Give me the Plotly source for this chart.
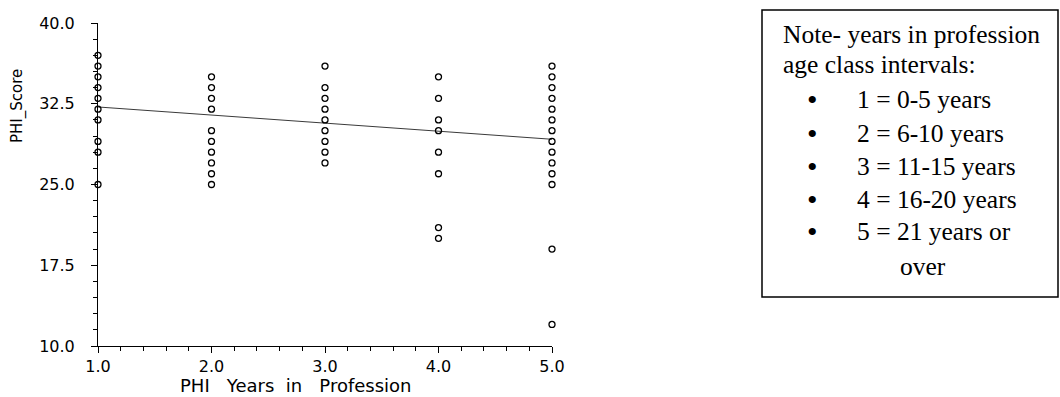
import plotly.graph_objects as go

# ---- data ----
years_groups = [1, 2, 3, 4, 5]
score_1 = [37, 36, 35, 34, 33, 32, 31, 29, 28, 25]
score_2 = [35, 34, 33, 32, 30, 29, 28, 27, 26, 25]
score_3 = [36, 34, 33, 32, 31, 30, 29, 28, 27]
score_4 = [35, 33, 31, 30, 28, 26, 21, 20]
score_5 = [36, 35, 34, 33, 32, 31, 30, 29, 28, 27, 26, 25, 19, 12]
fit_x = [1.0, 5.0]
fit_y = [32.2, 29.2]
x_ticks = [1.0, 2.0, 3.0, 4.0, 5.0]
y_ticks = [10.0, 17.5, 25.0, 32.5, 40.0]
note_lines = ["Note- years in profession", "age class intervals:"]
bullet_lines = ["1 = 0-5 years", "2 = 6-10 years", "3 = 11-15 years",
                "4 = 16-20 years", "5 = 21 years or"]
cont_line = "over"

groups = [score_1, score_2, score_3, score_4, score_5]
xs, ys = [], []
for g, sc in zip(years_groups, groups):
    xs += [g] * len(sc)
    ys += sc

W, H = 1060, 397
L, R, T, B = 98, 508, 23, 51
PW, PH = W - L - R, H - T - B


def px(x):
    return (x - L) / PW


def py(y):
    return (H - B - y) / PH


SANS = "DejaVu Sans, Verdana, sans-serif"
SERIF = "Liberation Serif, Times New Roman, serif"

fig = go.Figure()
fig.add_trace(go.Scatter(
    x=fit_x, y=fit_y, mode="lines",
    line=dict(color="#3a3a3a", width=1), cliponaxis=False, showlegend=False,
))
fig.add_trace(go.Scatter(
    x=xs, y=ys, mode="markers",
    marker=dict(symbol="circle-open", size=6, color="black",
                line=dict(color="black", width=1.3)),
    cliponaxis=False, showlegend=False,
))

axis_common = dict(
    showgrid=False, zeroline=False, showline=True, linecolor="black",
    linewidth=1, ticks="outside", tickcolor="black", tickwidth=1,
    tickformat=".1f", tickfont=dict(family=SANS, size=16, color="black"),
)

fig.update_layout(
    width=W, height=H,
    margin=dict(l=L, r=R, t=T, b=B),
    paper_bgcolor="white", plot_bgcolor="white",
    xaxis=dict(
        range=[1, 5], tickmode="array", tickvals=x_ticks, ticklen=6,
        minor=dict(dtick=0.2, tick0=1, ticklen=4, ticks="outside",
                   tickcolor="black", tickwidth=1, showgrid=False),
        ticklabelstandoff=0,
        **axis_common,
    ),
    yaxis=dict(
        range=[10, 40], tickmode="array", tickvals=y_ticks, ticklen=6,
        minor=dict(dtick=1.5, tick0=10, ticklen=4, ticks="outside",
                   tickcolor="black", tickwidth=1, showgrid=False),
        ticklabelstandoff=13,
        **axis_common,
    ),
)

ann = []
# axis titles
ann.append(dict(text="PHI\u00a0\u00a0 Years\u00a0 in\u00a0\u00a0 Profession",
                x=px(296), y=py(385), xref="paper", yref="paper",
                xanchor="center", yanchor="middle", showarrow=False,
                font=dict(family=SANS, size=18, color="black")))
ann.append(dict(text="PHI_Score", x=px(18), y=py(106), xref="paper", yref="paper",
                xanchor="center", yanchor="middle", showarrow=False, textangle=-90,
                font=dict(family=SANS, size=15, color="black")))

# note box text
note_y = [35, 64]
for t, yy in zip(note_lines, note_y):
    ann.append(dict(text=t, x=px(781), y=py(yy), xref="paper", yref="paper",
                    xanchor="left", yanchor="middle", showarrow=False,
                    font=dict(family=SERIF, size=25.5, color="black")))
bullet_y = [100, 133, 166, 199, 232]
for t, yy in zip(bullet_lines, bullet_y):
    ann.append(dict(text="\u2022", x=px(812), y=py(yy), xref="paper", yref="paper",
                    xanchor="center", yanchor="middle", showarrow=False,
                    font=dict(family=SERIF, size=30, color="black")))
    ann.append(dict(text=t, x=px(855), y=py(yy), xref="paper", yref="paper",
                    xanchor="left", yanchor="middle", showarrow=False,
                    font=dict(family=SERIF, size=25.5, color="black")))
ann.append(dict(text=cont_line, x=px(898), y=py(266), xref="paper", yref="paper",
                xanchor="left", yanchor="middle", showarrow=False,
                font=dict(family=SERIF, size=25.5, color="black")))

fig.update_layout(annotations=ann)
fig.add_shape(type="rect", xref="paper", yref="paper",
              x0=px(762), x1=px(1058), y0=py(297), y1=py(10),
              line=dict(color="black", width=1.5), fillcolor="rgba(0,0,0,0)")

fig.write_html("out.html")
